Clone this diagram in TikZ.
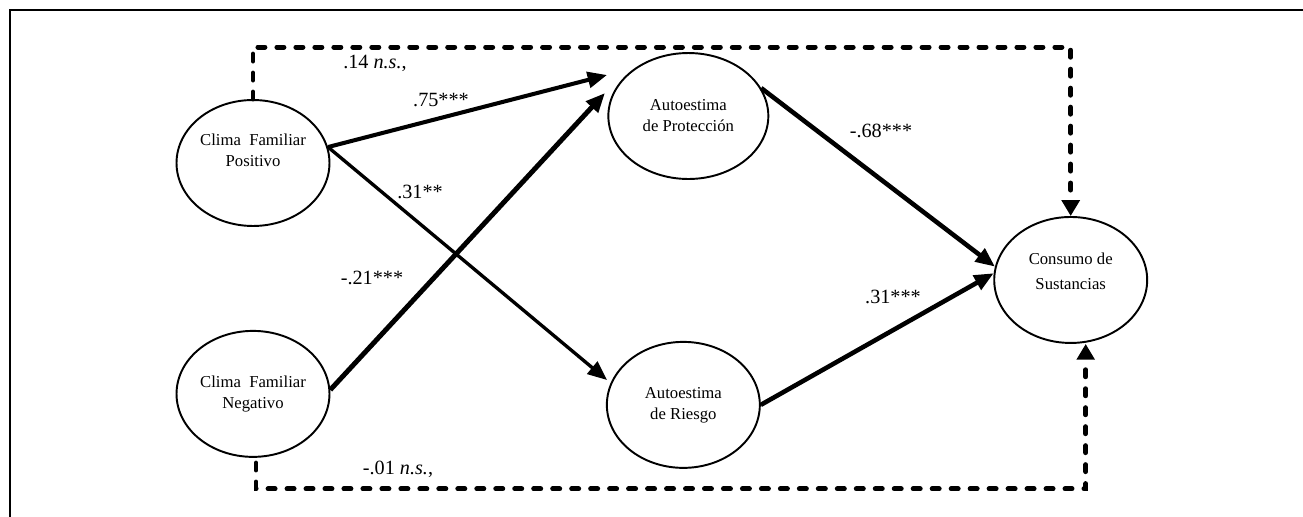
\documentclass[tikz,border=0pt]{standalone}
\usepackage{fontspec}
\setmainfont{Liberation Serif}
\usetikzlibrary{shapes.geometric, arrows.meta, positioning}

\begin{document}
\begin{tikzpicture}[
    x=0.02cm, y=-0.02cm,
    var/.style={ellipse, draw, line width=1.1pt, minimum width=3.06cm, minimum height=2.52cm, inner sep=0pt, align=center, font=\fontsize{9.5}{12}\selectfont},
    effect/.style={-{Triangle[length=11pt, width=9pt]}, line width=2.3pt},
    nsline/.style={-{Triangle[length=9pt, width=10pt]}, line width=2.8pt, dash pattern=on 4pt off 6.8pt, line cap=round},
    coef/.style={font=\fontsize{11.5}{14}\selectfont, inner sep=0pt}
]
    \useasboundingbox (0,0) rectangle (1303,517);
    \draw[line width=0.8pt] (10,517) -- (10,10) -- (1303,10);

    \node[var] (cfp) at (253,163) {Clima~~Familiar\\Positivo\\[2.8pt]\mbox{}};
    \node[var, below=2.06cm of cfp] (cfn) {Clima~~Familiar\\Negativo};
    \node[var, minimum width=3.2cm, right=5.54cm of cfp, yshift=0.94cm] (ap) {Autoestima\\de Protección};
    \node[var, right=5.51cm of cfn, yshift=-0.22cm] (ar) {Autoestima\\de Riesgo};
    \node[var, right=4.48cm of ap, yshift=-3.28cm] (cs) {Consumo de\\[2pt]Sustancias\\[-2pt]\mbox{}};

    \coordinate (tipap1) at (607,75);
    \coordinate (tipap2) at (605,93);
    \coordinate (tipar) at (607,380);
    \coordinate (negstart) at (256,463);

    \draw[effect] (cfp.12) -- (tipap1);
    \draw[effect, line width=2.8pt] (cfn.3) -- (tipap2);
    \draw[effect, line width=1.9pt] (cfp.12) -- (tipar);
    \draw[effect, line width=2.6pt] (ap.21) -- (cs.170);
    \draw[effect, line width=2.6pt] (ar.east) -- (cs.175);

    \draw[nsline] (cfp.north) |- ([yshift=3.38cm]cs.north) -- (cs.north);
    \draw[nsline] (negstart) |- ([xshift=0.3cm, yshift=-2.9cm]cs.south) -- ([xshift=0.3cm]cs.south);

    \node[coef] (c14) at (375,63) {.14 \textit{n.s.},};
    \node[coef] (c75) at (441,100) {.75***};
    \node[coef] (c31a) at (420,192) {.31**};
    \node[coef] (c21) at (372,278) {-.21***};
    \node[coef] (c68) at (881,131) {-.68***};
    \node[coef] (c31b) at (893,297) {.31***};
    \node[coef] (c01) at (398,469) {-.01 \textit{n.s.},};
\end{tikzpicture}
\end{document}
